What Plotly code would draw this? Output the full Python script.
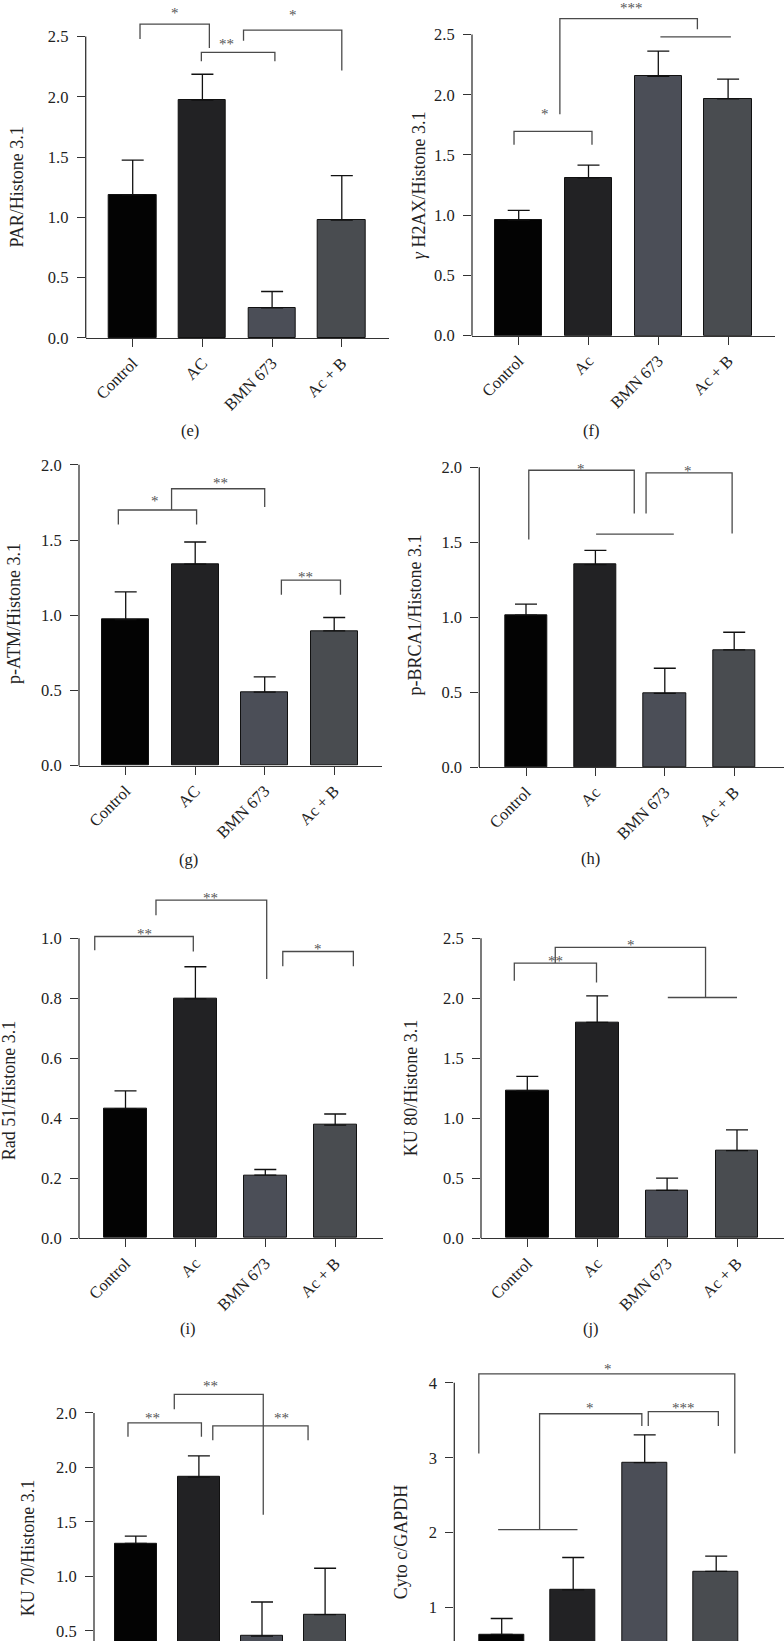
import plotly.graph_objects as go

W, H = 784, 1651

# ---------------- data ----------------
CATS_E = ["Control", "AC", "BMN 673", "Ac + B"]
CATS_F = ["Control", "Ac", "BMN 673", "Ac + B"]
CATS_G = ["Control", "AC", "BMN 673", "Ac + B"]
CATS_H = ["Control", "Ac", "BMN 673", "Ac + B"]
CATS_I = ["Control", "Ac", "BMN 673", "Ac + B"]
CATS_J = ["Control", "Ac", "BMN 673", "Ac + B"]
CATS_K = ["Control", "Ac", "BMN 673", "Ac + B"]
CATS_L = ["Control", "Ac", "BMN 673", "Ac + B"]

VALS_E = [1.187, 1.973, 0.25, 0.978]
ERR_E = [0.288, 0.214, 0.135, 0.368]
VALS_F = [0.96, 1.309, 2.153, 1.966]
ERR_F = [0.08, 0.107, 0.209, 0.163]
VALS_G = [0.971, 1.339, 0.489, 0.896]
ERR_G = [0.185, 0.148, 0.101, 0.089]
VALS_H = [1.014, 1.350, 0.491, 0.782]
ERR_H = [0.073, 0.095, 0.168, 0.117]
VALS_I = [0.431, 0.798, 0.210, 0.377]
ERR_I = [0.06, 0.107, 0.019, 0.037]
VALS_J = [1.227, 1.798, 0.398, 0.729]
ERR_J = [0.121, 0.221, 0.102, 0.174]
VALS_K = [1.302, 1.910, 0.451, 0.649]
ERR_K = [0.067, 0.195, 0.313, 0.425]
VALS_L = [0.642, 1.235, 2.934, 1.482]
ERR_L = [0.212, 0.433, 0.371, 0.204]

YTICKS_E = [0.0, 0.5, 1.0, 1.5, 2.0, 2.5]
YTICKS_F = [0.0, 0.5, 1.0, 1.5, 2.0, 2.5]
YTICKS_G = [0.0, 0.5, 1.0, 1.5, 2.0]
YTICKS_H = [0.0, 0.5, 1.0, 1.5, 2.0]
YTICKS_I = [0.0, 0.2, 0.4, 0.6, 0.8, 1.0]
YTICKS_J = [0.0, 0.5, 1.0, 1.5, 2.0, 2.5]
YTICKS_K = [0.0, 0.5, 1.0, 1.5, 2.0, 2.5]
YTICKTEXT_K = ["0.0", "0.5", "1.0", "1.5", "2.0", "2.0"]
YTICKS_L = [0, 1, 2, 3, 4]

# significance brackets: (x_left, x_right, y_top, y_left_end, y_right_end)
BR_E = [(0.105, 1.10, 2.603, 2.479, 2.405), (0.985, 2.04, 2.369, 2.294, 2.294),
        (1.59, 3.0, 2.553, 2.465, 2.218)]
ST_E = [(0.60, 2.735, "*"), (1.35, 2.48, "**"), (2.30, 2.72, "*")]
BR_F = [(-0.067, 1.05, 1.695, 1.584, 1.584), (0.59, 2.56, 2.632, 1.837, 2.544),
        (2.03, 3.04, 2.481, 2.481, 2.481)]
ST_F = [(0.38, 1.884, "*"), (1.62, 2.76, "***")]
BR_G = [(-0.106, 1.02, 1.70, 1.603, 1.603), (0.66, 2.0, 1.841, 1.70, 1.72),
        (2.24, 3.09, 1.233, 1.137, 1.137)]
ST_G = [(0.42, 1.79, "*"), (1.37, 1.912, "**"), (2.59, 1.286, "**")]
BR_H = [(0.04, 1.56, 1.980, 1.518, 1.691), (1.73, 2.97, 1.962, 1.691, 1.558),
        (1.01, 2.13, 1.554, 1.554, 1.554)]
ST_H = [(0.79, 2.02, "*"), (2.34, 2.01, "*")]
BR_I = [(-0.44, 0.97, 1.006, 0.960, 0.956), (0.436, 2.02, 1.127, 1.077, 0.864),
        (2.25, 3.26, 0.956, 0.907, 0.907)]
ST_I = [(0.265, 1.03, "**"), (1.22, 1.151, "**"), (2.76, 0.982, "*")]
BR_J = [(-0.186, 0.99, 2.293, 2.146, 2.13), (0.40, 2.55, 2.423, 2.293, 2.006),
        (2.01, 3.0, 2.006, 2.006, 2.006)]
ST_J = [(0.40, 2.348, "**"), (1.48, 2.483, "*")]
BR_K = [(-0.124, 1.04, 2.409, 2.281, 2.281), (0.61, 2.02, 2.670, 2.534, 1.564),
        (1.22, 2.73, 2.381, 2.248, 2.248)]
ST_K = [(0.257, 2.503, "**"), (1.18, 2.792, "**"), (2.31, 2.503, "**")]
BR_L = [(-0.32, 3.26, 4.12, 3.058, 3.058), (0.53, 1.96, 3.588, 2.04, 3.425),
        (2.05, 3.03, 3.615, 3.425, 3.425), (-0.05, 1.06, 2.04, 2.04, 2.04)]
ST_L = [(1.48, 4.25, "*"), (1.23, 3.73, "*"), (2.54, 3.73, "***")]

BAR_COLORS = ["#030303", "#222224", "#4b4e57", "#494c50"]

FONT = "Liberation Serif, Times New Roman, serif"
AXC = "#333333"
TXT = "#222222"

panels = [
    dict(cats=CATS_E, vals=VALS_E, err=ERR_E, br=BR_E, st=ST_E, yt=YTICKS_E, ytt=None, fmt=".1f",
         title="PAR/Histone 3.1", tpos=(16.7, 188), label=None, bw=0.68,
         g=dict(left=85.7, right=389, x0=132.7, sp=69.7, zero=340, unit=121.3, top=0, bottom=340)),
    dict(cats=CATS_F, vals=VALS_F, err=ERR_F, br=BR_F, st=ST_F, yt=YTICKS_F, ytt=None, fmt=".1f",
         title="<i>γ</i> H2AX/Histone 3.1", tpos=(419.3, 186), label=None, bw=0.68,
         g=dict(left=472, right=775, x0=518.7, sp=69.8, zero=337.7, unit=121.2, top=0, bottom=337.7)),
    dict(cats=CATS_G, vals=VALS_G, err=ERR_G, br=BR_G, st=ST_G, yt=YTICKS_G, ytt=None, fmt=".1f",
         title="p-ATM/Histone 3.1", tpos=(13.3, 617.5), label=("(e)", 190, 433), bw=0.68,
         g=dict(left=79, right=382, x0=125.7, sp=69.5, zero=770.3, unit=151.3, top=445, bottom=770.3)),
    dict(cats=CATS_H, vals=VALS_H, err=ERR_H, br=BR_H, st=ST_H, yt=YTICKS_H, ytt=None, fmt=".1f",
         title="p-BRCA1/Histone 3.1", tpos=(415.3, 619), label=("(f)", 591, 433), bw=0.61,
         g=dict(left=479.3, right=783.7, x0=526, sp=69.4, zero=771.7, unit=150.8, top=445, bottom=771.7)),
    dict(cats=CATS_I, vals=VALS_I, err=ERR_I, br=BR_I, st=ST_I, yt=YTICKS_I, ytt=None, fmt=".1f",
         title="Rad 51/Histone 3.1", tpos=(9.3, 1096.7), label=("(g)", 188, 865), bw=0.61,
         g=dict(left=79, right=382.5, x0=125.5, sp=69.9, zero=1245.7, unit=301.7, top=880, bottom=1245.7)),
    dict(cats=CATS_J, vals=VALS_J, err=ERR_J, br=BR_J, st=ST_J, yt=YTICKS_J, ytt=None, fmt=".1f",
         title="KU 80/Histone 3.1", tpos=(411, 1095), label=("(h)", 590, 864), bw=0.61,
         g=dict(left=481, right=784, x0=527.3, sp=69.9, zero=1245.7, unit=120.7, top=880, bottom=1245.7)),
    dict(cats=CATS_K, vals=VALS_K, err=ERR_K, br=BR_K, st=ST_K, yt=YTICKS_K, ytt=YTICKTEXT_K, fmt=".1f",
         title="KU 70/Histone 3.1", tpos=(28.3, 1557.5), label=("(i)", 188, 1337), bw=0.66,
         g=dict(left=94, right=368, x0=135.8, sp=63.1, zero=1695.5, unit=109.6, top=1355, bottom=1651)),
    dict(cats=CATS_L, vals=VALS_L, err=ERR_L, br=BR_L, st=ST_L, yt=YTICKS_L, ytt=None, fmt="d",
         title="Cyto c/GAPDH", tpos=(400.7, 1551), label=("(j)", 591, 1337), bw=0.63,
         g=dict(left=454.3, right=765, x0=501.7, sp=71.5, zero=1692.7, unit=75.35, top=1355, bottom=1651)),
]

fig = go.Figure()
annotations = []
shapes = []
layout = {}

for i, p in enumerate(panels):
    n = i + 1
    xa, ya = f"x{n}", f"y{n}"
    g = p["g"]
    xr = [(g["left"] - g["x0"]) / g["sp"], (g["right"] - g["x0"]) / g["sp"]]
    yr = [(g["zero"] - g["bottom"]) / g["unit"], (g["zero"] - g["top"]) / g["unit"]]
    xdom = [g["left"] / W, min(g["right"] / W, 1.0)]
    ydom = [max(1 - g["bottom"] / H, 0.0), 1 - g["top"] / H]
    full_axis = g["bottom"] >= g["zero"] - 0.5

    idx = list(range(len(p["cats"])))
    fig.add_trace(go.Bar(
        x=idx, y=p["vals"], width=p["bw"], xaxis=xa, yaxis=ya,
        marker=dict(color=BAR_COLORS, line=dict(color="#111111", width=1)),
        error_y=dict(type="data", symmetric=False, array=p["err"], arrayminus=[0] * len(idx),
                     color="#111111", thickness=1.3, width=11),
        showlegend=False, hoverinfo="skip"))

    bx, by = [], []
    for (xl, xrr, yt, yle, yre) in p["br"]:
        bx += [xl, xl, xrr, xrr, None]
        by += [yle, yt, yt, yre, None]
    fig.add_trace(go.Scatter(x=bx, y=by, mode="lines", xaxis=xa, yaxis=ya,
                             line=dict(color="#4a4a4a", width=1.3), showlegend=False, hoverinfo="skip"))

    for (sx, sy, txt) in p["st"]:
        annotations.append(dict(x=sx, y=sy, xref=xa, yref=ya, text=txt, showarrow=False,
                                xanchor="center", yanchor="middle",
                                font=dict(family=FONT, size=15, color="#555555"), yshift=-5))

    layout[f"xaxis{n}"] = dict(
        domain=xdom, range=xr, anchor=ya, tickvals=idx, ticktext=p["cats"],
        tickangle=-45, showgrid=False, zeroline=False,
        showline=full_axis, linecolor=AXC, linewidth=1.3,
        ticks="outside" if full_axis else "", ticklen=8, tickwidth=1.3, tickcolor=AXC,
        showticklabels=full_axis, tickfont=dict(family=FONT, size=16.5, color=TXT))
    ykw = dict(domain=ydom, range=yr, anchor=xa, tickvals=p["yt"], showgrid=False, zeroline=False,
               showline=False, ticks="outside", ticklen=8, tickwidth=1.3, tickcolor=AXC,
               tickformat=p["fmt"], ticklabelstandoff=5,
               tickfont=dict(family=FONT, size=16.5, color=TXT))
    if p["ytt"] is not None:
        ykw["ticktext"] = p["ytt"]
    layout[f"yaxis{n}"] = ykw

    # y axis line from the bottom of the visible plot up to the highest tick
    ytop_px = g["zero"] - max(p["yt"]) * g["unit"]
    ybot_px = min(g["zero"], g["bottom"])
    shapes.append(dict(type="line", xref="paper", yref="paper",
                       x0=g["left"] / W, x1=g["left"] / W,
                       y0=1 - ybot_px / H, y1=1 - ytop_px / H,
                       line=dict(color=AXC, width=1.3)))

    annotations.append(dict(x=p["tpos"][0] / W, y=1 - p["tpos"][1] / H, xref="paper", yref="paper",
                            text=p["title"], textangle=-90, showarrow=False,
                            xanchor="center", yanchor="middle",
                            font=dict(family=FONT, size=18, color=TXT)))
    if p["label"]:
        lt, lx, ly = p["label"]
        annotations.append(dict(x=lx / W, y=1 - ly / H, xref="paper", yref="paper", text=lt,
                                showarrow=False, xanchor="center", yanchor="middle",
                                font=dict(family=FONT, size=16.5, color=TXT)))

fig.update_layout(width=W, height=H, margin=dict(l=0, r=0, t=0, b=0),
                  paper_bgcolor="white", plot_bgcolor="white",
                  annotations=annotations, shapes=shapes, bargap=0, **layout)

fig.write_html("out.html", include_plotlyjs=True, config={"displayModeBar": False},
               post_script="document.body.style.margin='0';document.body.style.overflow='hidden';")
